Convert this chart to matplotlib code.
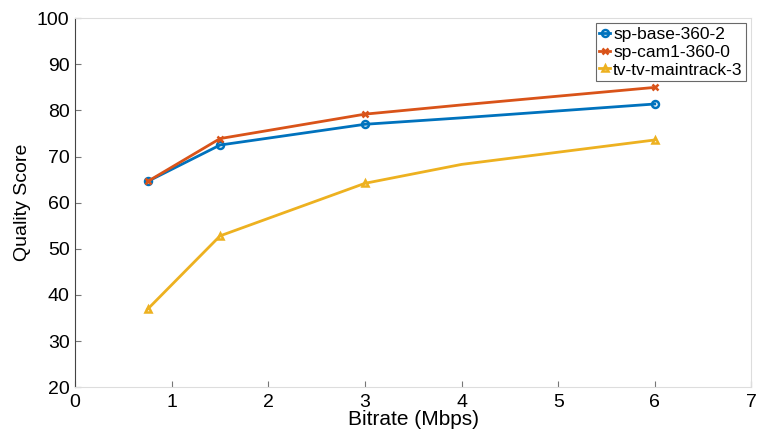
import matplotlib
matplotlib.use("Agg")
import matplotlib.pyplot as plt

# bitrates (Mbps) et scores
bitrate = [0.75, 1.5, 3, 4, 6]
base360 = [64.6, 72.5, 77.0, 78.4, 81.4]
cam360 = [64.6, 73.9, 79.2, 81.2, 85.0]
maintrack = [36.9, 52.8, 64.2, 68.3, 73.6]
noms = ["sp-base-360-2", "sp-cam1-360-0", "tv-tv-maintrack-3"]

plt.rcParams['font.family'] = ['Liberation Sans', 'DejaVu Sans']

fig = plt.figure(figsize=(7.59, 4.34), dpi=100)
ax = fig.add_axes([0.099, 0.108, 0.891, 0.850])

# points avec marqueurs (pas de marqueur a 4 Mbps)
marques = [0, 1, 2, 4]
ax.plot(bitrate, base360, color="#0072BD", lw=2, marker="o", ms=5,
        mfc="none", mew=1.8, markevery=marques, label=noms[0])
ax.plot(bitrate, cam360, color="#D95319", lw=2, marker="x", ms=5,
        mew=1.8, markevery=marques, label=noms[1])
ax.plot(bitrate, maintrack, color="#EDB120", lw=2, marker="^", ms=5,
        mfc="none", mew=1.8, markevery=marques, label=noms[2])

ax.set_xlim(0, 7)
ax.set_ylim(20, 100)
ax.set_xticks(range(0, 8))
ax.set_yticks(range(20, 101, 10))
ax.tick_params(direction="in", length=4, labelsize=14, color="#777777")
ax.tick_params(axis="x", pad=5)
ax.tick_params(axis="y", pad=4)
ax.set_xlabel("Bitrate (Mbps)", fontsize=15, labelpad=-1)
ax.set_ylabel("Quality Score", fontsize=14, labelpad=4)

ax.spines["left"].set_color("#444444")
for s in ["top", "right", "bottom"]:
    ax.spines[s].set_color("#dddddd")

leg = ax.legend(loc="upper right", fontsize=12.5, frameon=True, fancybox=False,
                handlelength=0.6, handletextpad=0.2, borderpad=0.2,
                labelspacing=0.15, borderaxespad=0.3)
leg.get_frame().set_edgecolor("#444444")
leg.get_frame().set_linewidth(0.8)

fig.savefig("out.png", dpi=100)
